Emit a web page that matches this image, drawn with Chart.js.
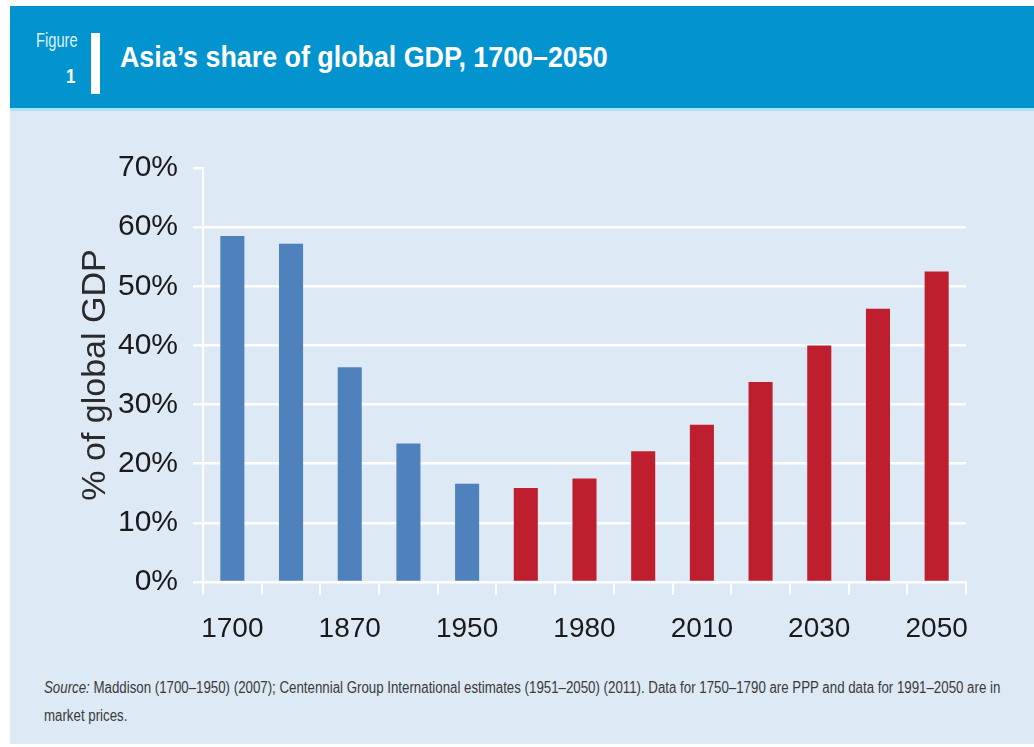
<!DOCTYPE html>
<html>
<head>
<meta charset="utf-8">
<script src="https://cdn.jsdelivr.net/npm/chart.js@4.4.0/dist/chart.umd.min.js"></script>
<style>
  body { margin: 0; background: #fff; width: 1034px; height: 747px; position: relative; overflow: hidden; }
  .header { position: absolute; left: 10px; top: 6px; width: 1024px; height: 102px; background: #0393cf; border-bottom: 3px solid #a9e3f4; }
  .fig { position: absolute; left: 26px; top: 22px; color: #dff2fb; font: 21px 'Liberation Sans', Arial, sans-serif; transform: scaleX(0.7); transform-origin: left top; }
  .fignum { position: absolute; left: 56px; top: 59px; color: #fff; font: bold 20px 'Liberation Sans', Arial, sans-serif; transform: scaleX(0.85); transform-origin: left top; }
  .bar { position: absolute; left: 81px; top: 27px; width: 9px; height: 61px; background: #fff; }
  .title { position: absolute; left: 110px; top: 35px; color: #fff; font: bold 29px 'Liberation Sans', Arial, sans-serif; transform: scaleX(0.925); transform-origin: left top; white-space: nowrap; }
  .panel { position: absolute; left: 10px; top: 111px; width: 1024px; height: 633px; background: #dde9f5; }
  #wrap { position: absolute; left: 0; top: 0; width: 1024px; height: 540px; }
  .source { position: absolute; left: 34px; top: 563px; white-space: nowrap; color: #3a3a3a; font: 16px/28px 'Liberation Sans', Arial, sans-serif; transform: scaleX(0.83); transform-origin: left top; }
</style>
</head>
<body>
<div class="header">
  <div class="fig">Figure</div>
  <div class="fignum">1</div>
  <div class="bar"></div>
  <div class="title">Asia’s share of global GDP, 1700–2050</div>
</div>
<div class="panel">
  <div id="wrap"><canvas id="gdpChart"></canvas></div>
  <div class="source"><i>Source:</i> Maddison (1700–1950) (2007); Centennial Group International estimates (1951–2050) (2011). Data for 1750–1790 are PPP and data for 1991–2050 are in<br>market prices.</div>
</div>
<script>
const years = ['1700', '1820', '1870', '1913', '1950', '1970', '1980', '2000', '2010', '2020', '2030', '2040', '2050'];
const labelledYears = ['1700', '1870', '1950', '1980', '2010', '2030', '2050'];
const historical = [58.5, 57.2, 36.3, 23.4, 16.6, null, null, null, null, null, null, null, null];
const projected = [null, null, null, null, null, 15.9, 17.5, 22.1, 26.6, 33.8, 40.0, 46.2, 52.5];
const yMax = 70;
const yStep = 10;

const sans = "'Liberation Sans', Arial, sans-serif";

Chart.defaults.animation = false;
Chart.defaults.plugins.tooltip.enabled = false;

new Chart(document.getElementById('gdpChart'), {
  type: 'bar',
  data: {
    labels: years,
    datasets: [
      { label: 'Maddison', data: historical, backgroundColor: '#4f81bd' },
      { label: 'Centennial', data: projected, backgroundColor: '#be1e2d' },
    ],
  },
  options: {
    responsive: true,
    maintainAspectRatio: false,
    animation: false,
    layout: { padding: { top: 57, right: 68, left: 0, bottom: 0 } },
    datasets: { bar: { barPercentage: 0.41, categoryPercentage: 1 } },
    plugins: { legend: { display: false } },
    scales: {
      x: {
        stacked: true,
        afterFit: (s) => { s.height = 69; },
        grid: { drawOnChartArea: false, color: '#fff', lineWidth: 2, tickLength: 13 },
        border: { color: '#fff', width: 2 },
        ticks: {
          autoSkip: false,
          maxRotation: 0,
          padding: 17,
          color: '#1a1a1a',
          font: { family: sans, size: 28 },
          callback: function (v) {
            const l = this.getLabelForValue(v);
            return labelledYears.includes(l) ? l : '';
          },
        },
      },
      y: {
        stacked: true,
        min: 0,
        max: yMax,
        afterFit: (s) => { s.width = 193; },
        grid: {
          color: (c) => (c.tick && c.tick.value === yMax ? 'rgba(0,0,0,0)' : '#fff'),
          tickColor: '#fff',
          lineWidth: 2.5,
          tickLength: 10,
        },
        border: { color: '#fff', width: 2 },
        ticks: {
          stepSize: yStep,
          padding: 15,
          color: '#1a1a1a',
          font: { family: sans, size: 30 },
          callback: (v) => v + '%',
        },
        title: {
          display: true,
          text: '% of global GDP',
          color: '#2a2a2a',
          font: { family: sans, size: 34 },
          padding: { top: 65, bottom: 0 },
        },
      },
    },
  },
});
</script>
</body>
</html>
